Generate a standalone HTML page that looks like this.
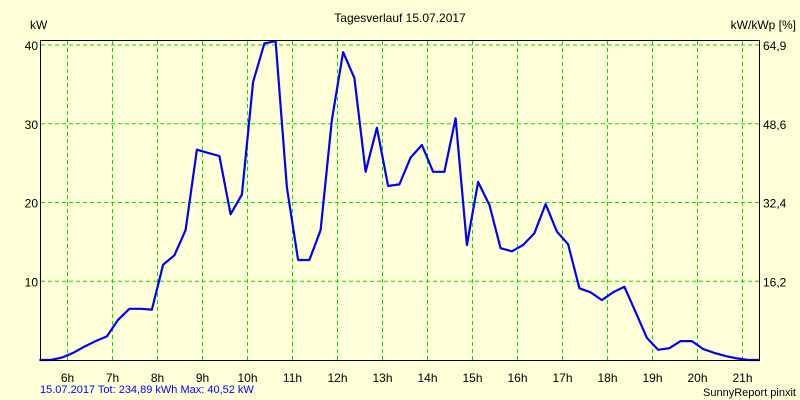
<!DOCTYPE html>
<html><head><meta charset="utf-8"><style>
body{margin:0;background:#ffffd8;}
svg{display:block;font-family:"Liberation Sans",sans-serif;}
</style></head><body>
<svg id="chart" width="800" height="400" viewBox="0 0 800 400">
<rect x="0" y="0" width="800" height="400" fill="#ffffd8"/>
<text x="400" y="22" font-size="12" text-anchor="middle">Tagesverlauf 15.07.2017</text>
<text x="30" y="29" font-size="12">kW</text>
<text x="796" y="29" font-size="12" text-anchor="end">kW/kWp [%]</text>
<g id="grid"></g>
<g id="series"></g>
<rect x="40.5" y="40.5" width="719" height="320" fill="none" stroke="#000" stroke-width="1"/>
<g id="labels"></g>
<text x="40" y="393" font-size="11" fill="#0000ff">15.07.2017 Tot: 234,89 kWh Max: 40,52 kW</text>
<text x="796" y="396" font-size="11" text-anchor="end">SunnyReport pinxit</text>
</svg>
<script>
const startHour = 5.375;
const stepHour = 0.25;
const values = [0,0,0.3,0.9,1.7,2.4,3.0,5.1,6.5,6.5,6.4,12.1,13.3,16.5,26.7,26.3,25.9,18.5,21,35.3,40.2,40.5,21.9,12.7,12.7,16.5,30.5,39.1,35.8,23.9,29.5,22.1,22.3,25.7,27.3,23.9,23.9,30.7,14.6,22.6,19.7,14.2,13.8,14.6,16.1,19.8,16.3,14.7,9.1,8.6,7.6,8.6,9.3,6.1,2.8,1.3,1.5,2.4,2.4,1.4,0.9,0.5,0.2,0,0];
const hourTicks = [6,7,8,9,10,11,12,13,14,15,16,17,18,19,20,21];
const leftTicks = [10,20,30,40];
const rightTickLabels = ["16,2","32,4","48,6","64,9"];

const NS="http://www.w3.org/2000/svg";
function xs(h){return 67.5+(h-6)*45;}
function ys(v){return 360-v*7.875;}
function mk(tag,attrs,parent){const e=document.createElementNS(NS,tag);for(const k in attrs)e.setAttribute(k,attrs[k]);parent.appendChild(e);return e;}
const grid=document.getElementById('grid'),labels=document.getElementById('labels'),series=document.getElementById('series');
hourTicks.forEach(h=>{
  const l=mk('line',{x1:xs(h),x2:xs(h),y1:41,y2:360,stroke:'#00e000','stroke-dasharray':'4,3','stroke-width':1},grid);
  
  
  const t=mk('text',{x:xs(h),y:382,'font-size':12,'text-anchor':'middle'},labels);
  t.textContent=h+'h';
  
  
});
leftTicks.forEach((v,i)=>{
  const l=mk('line',{x1:41,x2:759,y1:ys(v),y2:ys(v),stroke:'#00e000','stroke-dasharray':'4,3','stroke-width':1},grid);
  
  
  const t=mk('text',{x:38,y:ys(v)+5,'font-size':12,'text-anchor':'end'},labels);
  t.textContent=v;
  
  
  const r=mk('text',{x:763,y:ys(v)+5,'font-size':12},labels);
  r.textContent=rightTickLabels[i];
  
  
});
const pts=values.map((v,i)=>xs(startHour+i*stepHour).toFixed(1)+','+ys(v).toFixed(1)).join(' ');
const pl=mk('polyline',{points:pts,fill:'none',stroke:'#0000ff','stroke-width':2.2,'stroke-linejoin':'round'},series);


</script>
</body></html>
